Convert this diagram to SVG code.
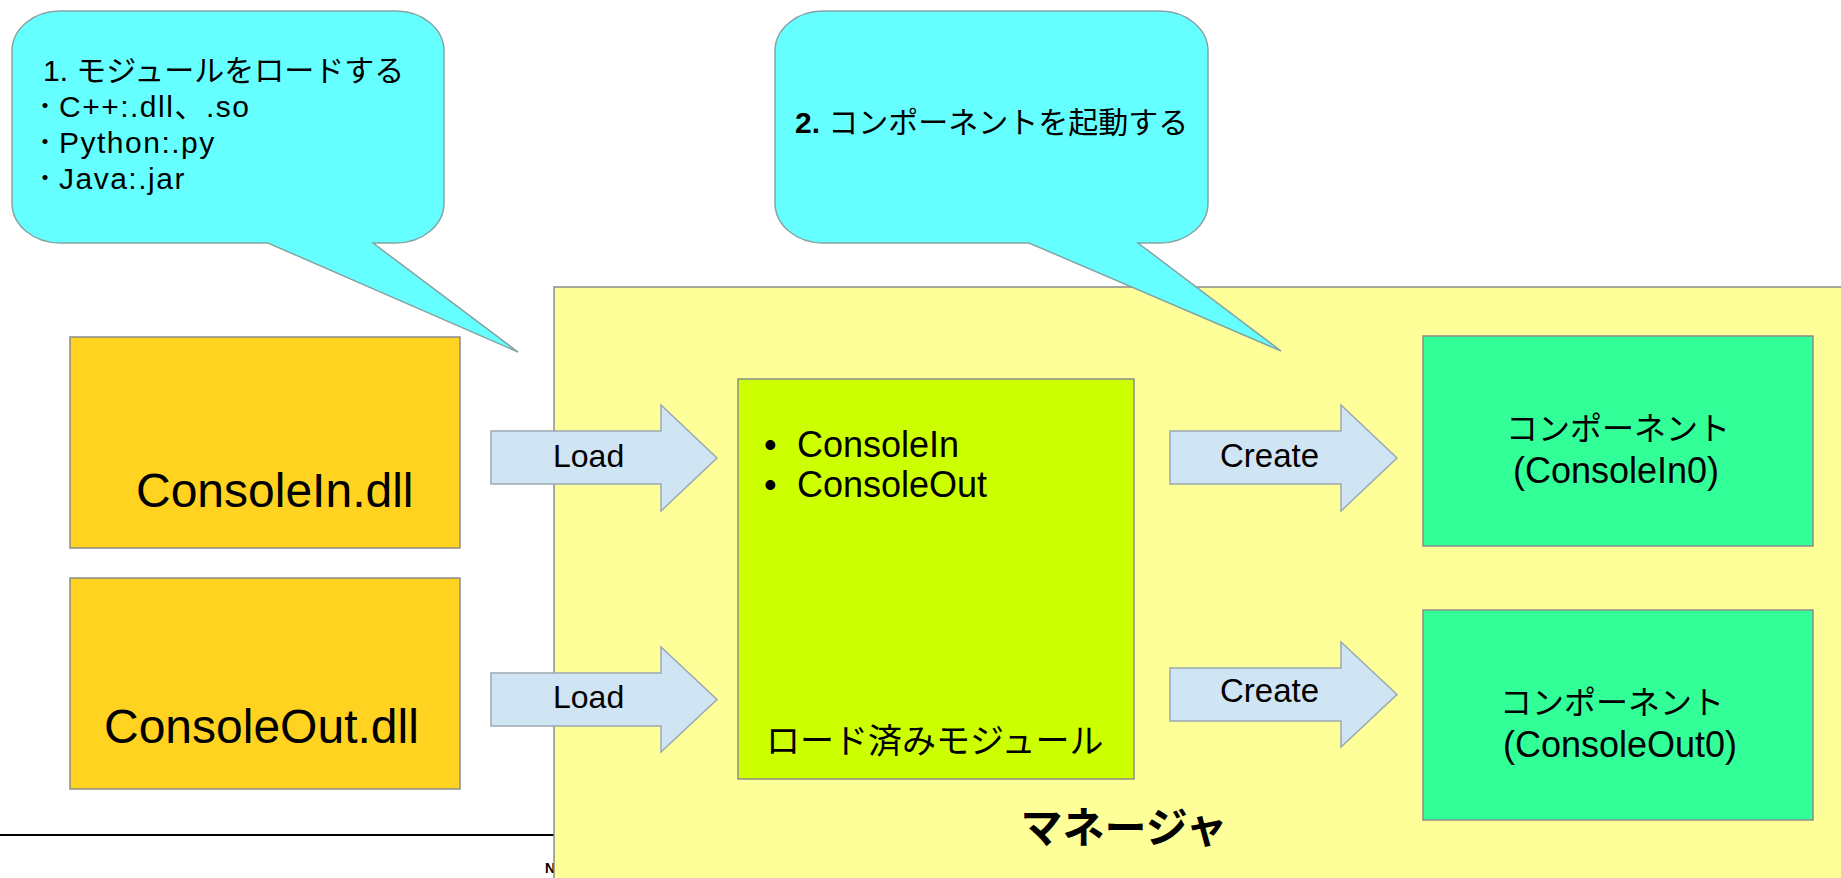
<svg xmlns="http://www.w3.org/2000/svg" width="1841" height="878" viewBox="0 0 1841 878">
<style>
  text { font-family: "Liberation Sans", "Noto Sans CJK JP", sans-serif; fill: #000; }
  .box { stroke: #8c8c8c; stroke-width: 1.5; }
  .bubble { fill: #66ffff; stroke: #86a3a3; stroke-width: 1.5; }
  .arrow { fill: #cfe5f4; stroke: #9aa8b2; stroke-width: 1.5; }
  .jp { font-family: "Noto Sans CJK JP", "Liberation Sans", sans-serif; }
  .blt { font-size: 30px; letter-spacing: 1.5px; }
  .dot { font-family: "Noto Sans CJK JP", sans-serif; font-size: 24px; }
</style>
<rect width="1841" height="878" fill="#ffffff"/>

<line x1="0" y1="835" x2="556" y2="835" stroke="#000" stroke-width="2"/>
<text x="545" y="873" font-size="14" font-weight="bold">N</text>

<g id="manager">
  <rect class="box" x="554" y="287" width="1300" height="600" fill="#ffff99"/>
  <text class="jp" x="1124" y="843" font-size="42" font-weight="bold" text-anchor="middle">マネージャ</text>
</g>

<g id="loaded-modules">
  <rect class="box" x="738" y="379" width="396" height="400" fill="#ccff00"/>
  <text x="764" y="457" font-size="36">•</text>
  <text x="797" y="457" font-size="36">ConsoleIn</text>
  <text x="764" y="497" font-size="36">•</text>
  <text x="797" y="497" font-size="36">ConsoleOut</text>
  <text class="jp" x="766" y="753" font-size="34">ロード済みモジュール</text>
</g>

<g id="dll-consolein">
  <rect class="box" x="70" y="337" width="390" height="211" fill="#ffd320"/>
  <text x="136" y="507" font-size="48">ConsoleIn.dll</text>
</g>

<g id="dll-consoleout">
  <rect class="box" x="70" y="578" width="390" height="211" fill="#ffd320"/>
  <text x="104" y="743" font-size="48">ConsoleOut.dll</text>
</g>

<g id="comp-consolein0">
  <rect class="box" x="1423" y="336" width="390" height="210" fill="#33ff99"/>
  <text class="jp" x="1618" y="440" font-size="32" text-anchor="middle">コンポーネント</text>
  <text x="1616" y="483" font-size="36" text-anchor="middle">(ConsoleIn0)</text>
</g>

<g id="comp-consoleout0">
  <rect class="box" x="1423" y="610" width="390" height="210" fill="#33ff99"/>
  <text class="jp" x="1612" y="714" font-size="32" text-anchor="middle">コンポーネント</text>
  <text x="1620" y="757" font-size="36" text-anchor="middle">(ConsoleOut0)</text>
</g>

<g id="connectors">
  <path class="arrow" d="M491,431 H661 V405 L717,458 L661,511 V484 H491 Z"/>
  <text x="553" y="467" font-size="32">Load</text>
  <path class="arrow" d="M491,673 H661 V647 L717,699.5 L661,752 V726 H491 Z"/>
  <text x="553" y="708" font-size="32">Load</text>
  <path class="arrow" d="M1170,431 H1341 V405 L1397,458 L1341,511 V484 H1170 Z"/>
  <text x="1220" y="467" font-size="33">Create</text>
  <path class="arrow" d="M1170,668 H1341 V642 L1397,694.5 L1341,747 V721 H1170 Z"/>
  <text x="1220" y="702" font-size="33">Create</text>
</g>

<g id="callout-load">
  <path class="bubble" d="M60,11 H396 A48,40 0 0 1 444,51 V203 A48,40 0 0 1 396,243 H373 L518,352 L268,243 H60 A48,40 0 0 1 12,203 V51 A48,40 0 0 1 60,11 Z"/>
  <text x="43" y="81" font-size="30">1. モジュールをロードする</text>
  <text class="dot" x="33" y="114">・</text>
  <text class="blt" x="59" y="117">C++:.dll、.so</text>
  <text class="dot" x="33" y="150">・</text>
  <text class="blt" x="59" y="153">Python:.py</text>
  <text class="dot" x="33" y="186">・</text>
  <text class="blt" x="59" y="189">Java:.jar</text>
</g>

<g id="callout-create">
  <path class="bubble" d="M823,11 H1160 A48,40 0 0 1 1208,51 V203 A48,40 0 0 1 1160,243 H1138 L1281,351 L1029,243 H823 A48,40 0 0 1 775,203 V51 A48,40 0 0 1 823,11 Z"/>
  <text x="795" y="133" font-size="30"><tspan font-weight="bold">2.</tspan> コンポーネントを起動する</text>
</g>
</svg>
